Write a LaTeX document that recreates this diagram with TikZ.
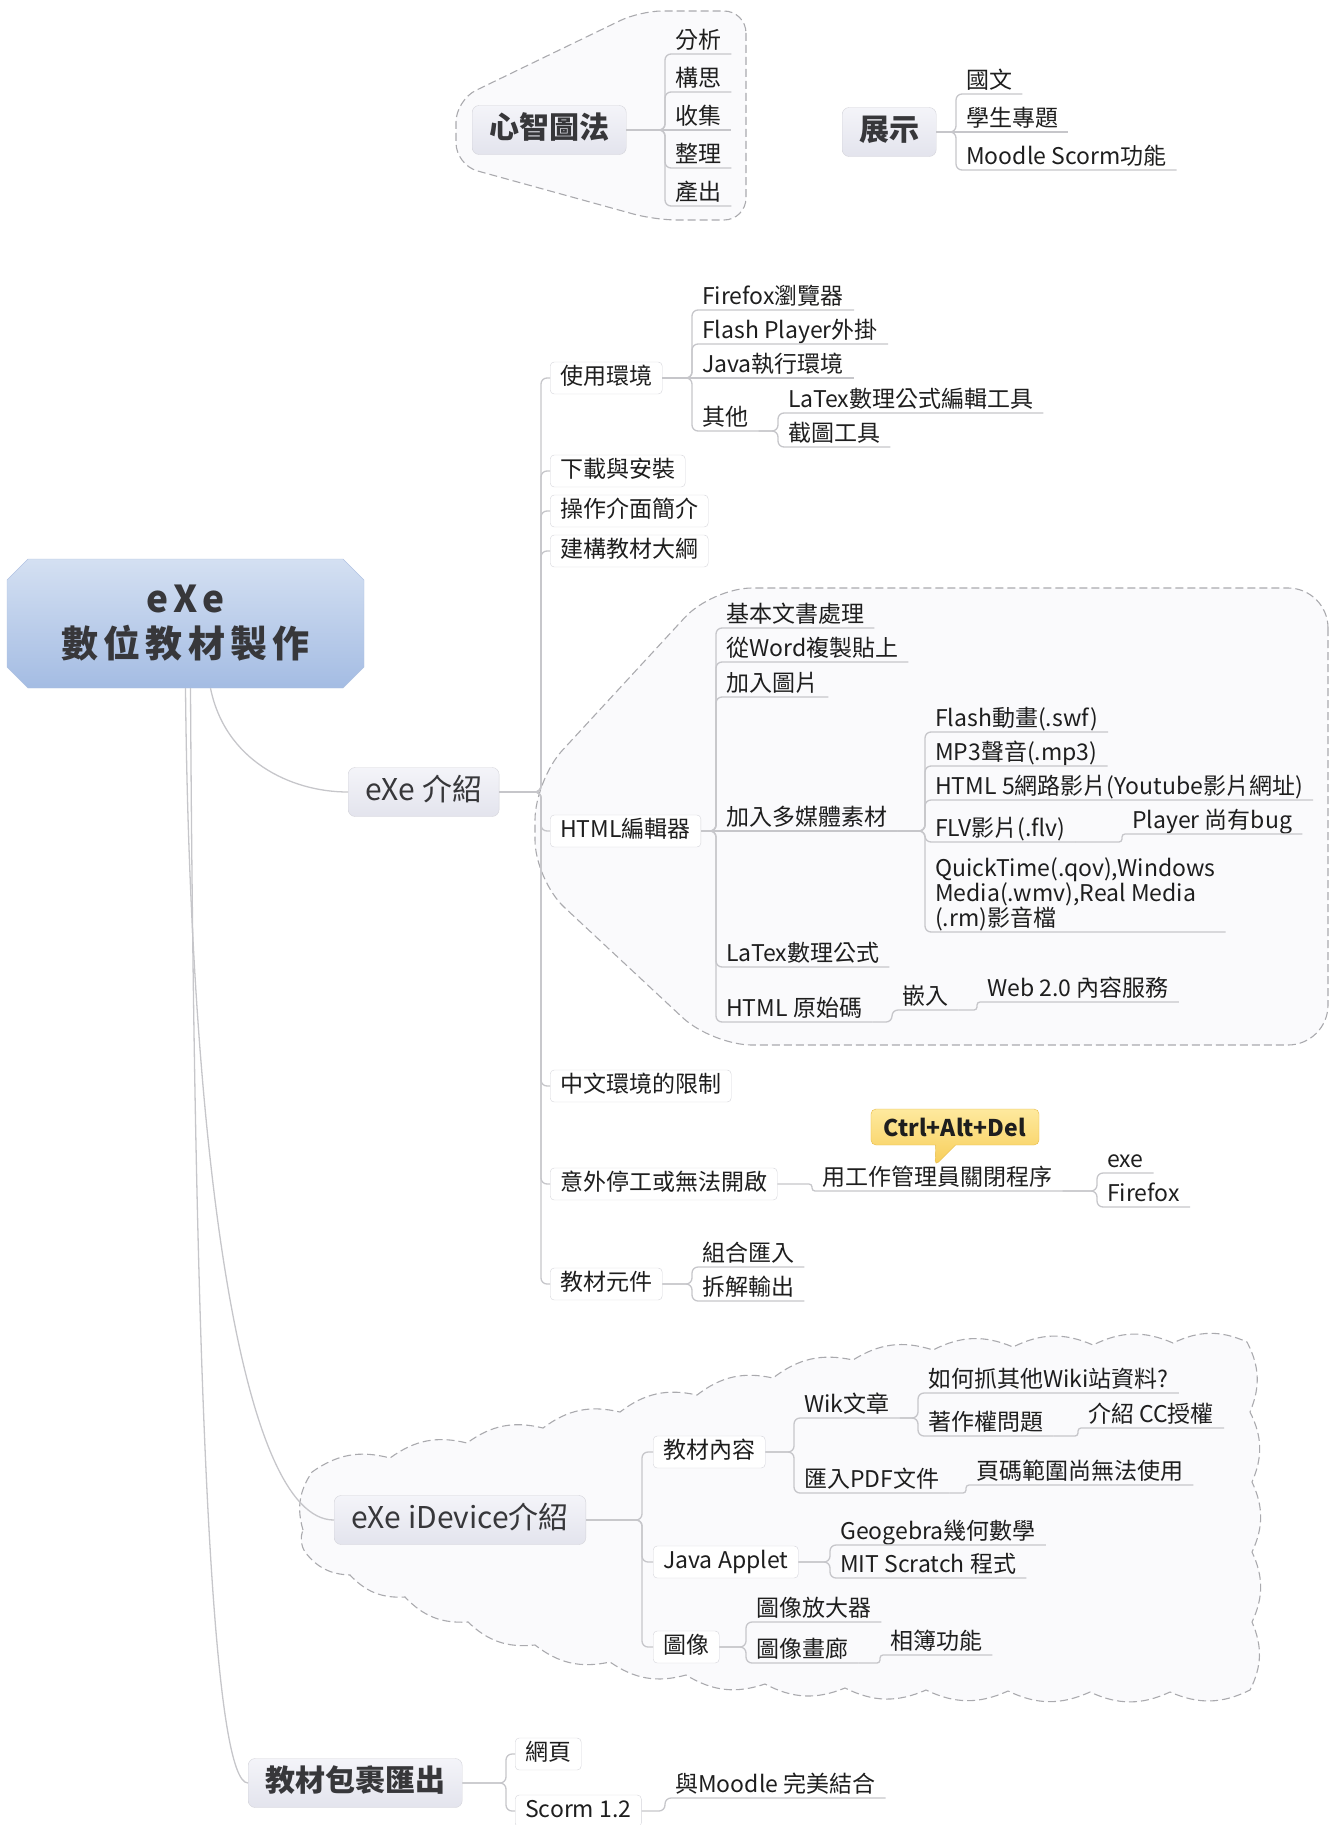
\documentclass[tikz,border=0pt]{standalone}
\usepackage{fontspec}
\setmainfont{Noto Sans CJK TC}
\usetikzlibrary{shapes.callouts}
\definecolor{ink}{RGB}{30,30,30}
\definecolor{head}{RGB}{55,55,58}
\definecolor{wire}{RGB}{198,198,202}
\definecolor{rim}{RGB}{212,212,218}
\definecolor{hull}{RGB}{170,170,174}
\definecolor{haze}{RGB}{250,250,252}
\definecolor{topA}{RGB}{244,244,249}
\definecolor{topB}{RGB}{227,228,237}
\definecolor{rootA}{RGB}{212,224,242}
\definecolor{rootB}{RGB}{164,188,227}
\definecolor{rootE}{RGB}{176,194,226}
\definecolor{tipA}{RGB}{254,233,158}
\definecolor{tipB}{RGB}{247,205,88}
\definecolor{tipE}{RGB}{230,186,72}
\newcommand{\fsz}[1]{\fontsize{#1}{#1}\selectfont}
\tikzset{
  x=1pt,y=-1pt,
  rootlbl/.style={minimum width=357pt,minimum height=129pt,align=center,
    text=head,font=\fontsize{37}{45}\selectfont\bfseries\addfontfeature{LetterSpace=14}},
  topic/.style={draw=rim,rounded corners=7pt,top color=topA,bottom color=topB,
    anchor=west,inner xsep=17pt,inner ysep=9pt,text height=24pt,text depth=7pt,
    minimum height=49pt,font=\fsz{30},text=head},
  heavy/.style={font=\fsz{30}\bfseries},
  sub/.style={draw=rim,rounded corners=4pt,fill=white,anchor=west,
    inner xsep=10pt,inner ysep=4pt,text height=17pt,text depth=5pt,
    minimum height=32pt,font=\fsz{23},text=ink},
  leaf/.style={anchor=south west,inner xsep=10pt,inner ysep=0pt,
    text height=17pt,text depth=5pt,font=\fsz{23},text=ink},
  qleaf/.style={anchor=south west,inner xsep=10pt,inner ysep=1pt,align=left,
    font=\fontsize{23}{23.5}\selectfont,text=ink},
  tip/.style={rectangle callout,rounded corners=5pt,draw=tipE,
    top color=tipA,bottom color=tipB,inner xsep=13pt,minimum height=36pt,
    callout pointer width=20pt,font=\fsz{23}\bfseries,text=ink},
  conn/.style={draw=wire,line width=1.3pt,rounded corners=6pt},
  jog/.style={rounded corners=3pt},
  hullline/.style={draw=hull,dash pattern=on 8pt off 4pt,line width=1.1pt,fill=haze},
  puff/.style={bend left=25},
}
\begin{document}
\begin{tikzpicture}
  \path[use as bounding box] (0,0) rectangle (1330,1825);
  \clip (0,0) rectangle (1330,1825);

  % dashed boundaries
  \draw[hullline,rounded corners=22pt] (746,11) -- (746,220) -- (655,220)
    -- (456,165) -- (456,100) -- (640,11) -- cycle;
  \draw[hullline,rounded corners=40pt] (1328,588) -- (1328,1045) -- (712,1045)
    -- (535,880) -- (535,780) -- (712,588) -- cycle;
  % cloud round the iDevice branch
  \draw[hullline] (303,1530) to[puff] (312,1472) to[puff] (390,1458)
    to[puff] (467,1443) to[puff] (543,1428) to[puff] (620,1412)
    to[puff] (697,1395) to[puff] (773,1378) to[puff] (853,1360)
    to[puff] (933,1350) to[puff] (1013,1347) to[puff] (1093,1345)
    to[puff] (1173,1343) to[puff] (1247,1342) to[puff] (1250,1412)
    to[puff] (1252,1482) to[puff] (1252,1552) to[puff] (1252,1622)
    to[puff] (1250,1690) to[puff] (1170,1692) to[puff] (1090,1692)
    to[puff] (1008,1691) to[puff] (926,1690) to[puff] (845,1688)
    to[puff] (765,1684) to[puff] (686,1675) to[puff] (610,1662)
    to[puff] (535,1645) to[puff] (468,1622) to[puff] (405,1597)
    to[puff] (350,1575) to[puff] (305,1552) to[puff] (303,1530) -- cycle;

  % central topic
  \shade[top color=rootA,bottom color=rootB,draw=rootE]
    (28,559) -- (343,559) -- (364,580) -- (364,667) -- (343,688)
    -- (28,688) -- (7,667) -- (7,580) -- cycle;
  \node[rootlbl] (root) at (185.5,623.5) {eXe\\數位教材製作};

  % floating topics
  \node[topic,heavy] (mind) at (472,130) {心智圖法};
  \node[leaf] (m1) at (665,54) {分析};
  \node[leaf] (m2) at (665,92) {構思};
  \node[leaf] (m3) at (665,130) {收集};
  \node[leaf] (m4) at (665,168) {整理};
  \node[leaf] (m5) at (665,206) {產出};
  \draw[conn] (mind.east) -| (m1.south west) -- (m1.south east);
  \draw[conn] (mind.east) -| (m2.south west) -- (m2.south east);
  \draw[conn] (mind.east) -- (m3.south east);
  \draw[conn] (mind.east) -| (m4.south west) -- (m4.south east);
  \draw[conn] (mind.east) -| (m5.south west) -- (m5.south east);

  \node[topic,heavy] (show) at (842,132) {展示};
  \node[leaf] (s1) at (956,94) {國文};
  \node[leaf] (s2) at (956,132) {學生專題};
  \node[leaf] (s3) at (956,170) {Moodle Scorm功能};
  \draw[conn] (show.east) -| (s1.south west) -- (s1.south east);
  \draw[conn] (show.east) -- (s2.south east);
  \draw[conn] (show.east) -| (s3.south west) -- (s3.south east);

  % eXe intro branch
  \node[topic] (exe) at (348,792) {eXe 介紹};
  \draw[conn] ([xshift=25pt]root.south) .. controls (225,760) and (290,792) .. (exe.west);
  \node[sub] (env) at (550,378) {使用環境};
  \node[sub] (dl) at (550,471) {下載與安裝};
  \node[sub] (ui) at (550,511) {操作介面簡介};
  \node[sub] (ol) at (550,551) {建構教材大綱};
  \node[sub] (html) at (550,831) {HTML編輯器};
  \node[sub] (zh) at (550,1086) {中文環境的限制};
  \node[sub] (crash) at (550,1184) {意外停工或無法開啟};
  \node[sub] (comp) at (550,1284) {教材元件};
  \draw[conn] (exe.east) -| ([xshift=-9pt]env.west) -- (env.west);
  \draw[conn] (exe.east) -| ([xshift=-9pt]dl.west) -- (dl.west);
  \draw[conn] (exe.east) -| ([xshift=-9pt]ui.west) -- (ui.west);
  \draw[conn] (exe.east) -| ([xshift=-9pt]ol.west) -- (ol.west);
  \draw[conn] (exe.east) -| ([xshift=-9pt]html.west) -- (html.west);
  \draw[conn] (exe.east) -| ([xshift=-9pt]zh.west) -- (zh.west);
  \draw[conn] (exe.east) -| ([xshift=-9pt]crash.west) -- (crash.west);
  \draw[conn] (exe.east) -| ([xshift=-9pt]comp.west) -- (comp.west);

  \node[leaf] (ff) at (692,310) {Firefox瀏覽器};
  \node[leaf] (fp) at (692,344) {Flash Player外掛};
  \node[leaf] (jv) at (692,378) {Java執行環境};
  \node[leaf] (ot) at (692,431) {其他};
  \node[leaf] (lt) at (778,413) {LaTex數理公式編輯工具};
  \node[leaf] (sn) at (778,447) {截圖工具};
  \draw[conn] (env.east) -| (ff.south west) -- (ff.south east);
  \draw[conn] (env.east) -| (fp.south west) -- (fp.south east);
  \draw[conn] (env.east) -- (jv.south east);
  \draw[conn] (env.east) -| (ot.south west) -- (ot.south east);
  \draw[conn] (ot.south east) -| (lt.south west) -- (lt.south east);
  \draw[conn] (ot.south east) -| (sn.south west) -- (sn.south east);

  \node[leaf] (b1) at (716,628) {基本文書處理};
  \node[leaf] (b2) at (716,662) {從Word複製貼上};
  \node[leaf] (b3) at (716,697) {加入圖片};
  \node[leaf] (mm) at (716,831) {加入多媒體素材};
  \node[leaf] (lx) at (716,967) {LaTex數理公式};
  \node[leaf] (src) at (716,1022) {HTML 原始碼};
  \draw[conn] (html.east) -| (b1.south west) -- (b1.south east);
  \draw[conn] (html.east) -| (b2.south west) -- (b2.south east);
  \draw[conn] (html.east) -| (b3.south west) -- (b3.south east);
  \draw[conn] (html.east) -- (mm.south east);
  \draw[conn] (html.east) -| (lx.south west) -- (lx.south east);
  \draw[conn] (html.east) -| (src.south west) -- (src.south east);

  \node[leaf] (f1) at (925,732) {Flash動畫(.swf)};
  \node[leaf] (f2) at (925,766) {MP3聲音(.mp3)};
  \node[leaf] (f3) at (925,800) {HTML 5網路影片(Youtube影片網址)};
  \node[leaf] (f4) at (925,842) {FLV影片(.flv)};
  \node[qleaf] (f5) at (925,932) {QuickTime(.qov),Windows\\Media(.wmv),Real Media\\(.rm)影音檔};
  \node[leaf] (bug) at (1122,834) {Player 尚有bug};
  \draw[conn] (mm.south east) -| (f1.south west) -- (f1.south east);
  \draw[conn] (mm.south east) -| (f2.south west) -- (f2.south east);
  \draw[conn] (mm.south east) -| (f3.south west) -- (f3.south east);
  \draw[conn] (mm.south east) -| (f4.south west) -- (f4.south east);
  \draw[conn] (mm.south east) -| (f5.south west) -- (f5.south east);
  \draw[conn,jog] (f4.south east) -| (bug.south west) -- (bug.south east);

  \node[leaf] (em) at (892,1010) {嵌入};
  \node[leaf] (web) at (977,1002) {Web 2.0 內容服務};
  \draw[conn] (src.south east) -| (em.south west) -- (em.south east);
  \draw[conn,jog] (em.south east) -| (web.south west) -- (web.south east);

  \node[leaf] (tm) at (812,1191) {用工作管理員關閉程序};
  \node[leaf] (ex) at (1097,1173) {exe};
  \node[leaf] (fx) at (1097,1207) {Firefox};
  \node[tip,callout absolute pointer={([xshift=123pt,yshift=3pt]tm.north west)}]
    (key) at (955,1127) {Ctrl+Alt+Del};
  \draw[conn,jog] (crash.east) -| (tm.south west) -- (tm.south east);
  \draw[conn] (tm.south east) -| (ex.south west) -- (ex.south east);
  \draw[conn] (tm.south east) -| (fx.south west) -- (fx.south east);

  \node[leaf] (c1) at (692,1267) {組合匯入};
  \node[leaf] (c2) at (692,1301) {拆解輸出};
  \draw[conn] (comp.east) -| (c1.south west) -- (c1.south east);
  \draw[conn] (comp.east) -| (c2.south west) -- (c2.south east);

  % iDevice branch
  \node[topic] (idev) at (334,1520) {eXe iDevice介紹};
  \draw[conn] (root.south) .. controls (190,1150) and (240,1520) .. (idev.west);
  \node[sub] (cont) at (653,1452) {教材內容};
  \node[sub] (java) at (653,1562) {Java Applet};
  \node[sub] (img) at (653,1647) {圖像};
  \draw[conn] (idev.east) -| ([xshift=-11pt]cont.west) -- (cont.west);
  \draw[conn] (idev.east) -| ([xshift=-11pt]java.west) -- (java.west);
  \draw[conn] (idev.east) -| ([xshift=-11pt]img.west) -- (img.west);

  \node[leaf] (wik) at (794,1418) {Wik文章};
  \node[leaf] (pdf) at (794,1493) {匯入PDF文件};
  \node[leaf] (how) at (918,1393) {如何抓其他Wiki站資料?};
  \node[leaf] (cr) at (918,1436) {著作權問題};
  \node[leaf] (cc) at (1078,1428) {介紹 CC授權};
  \node[leaf] (pg) at (966,1485) {頁碼範圍尚無法使用};
  \draw[conn] (cont.east) -| (wik.south west) -- (wik.south east);
  \draw[conn] (cont.east) -| (pdf.south west) -- (pdf.south east);
  \draw[conn] (wik.south east) -| (how.south west) -- (how.south east);
  \draw[conn] (wik.south east) -| (cr.south west) -- (cr.south east);
  \draw[conn,jog] (cr.south east) -| (cc.south west) -- (cc.south east);
  \draw[conn,jog] (pdf.south east) -| (pg.south west) -- (pg.south east);

  \node[leaf] (geo) at (830,1545) {Geogebra幾何數學};
  \node[leaf] (mit) at (830,1578) {MIT Scratch 程式};
  \draw[conn] (java.east) -| (geo.south west) -- (geo.south east);
  \draw[conn] (java.east) -| (mit.south west) -- (mit.south east);

  \node[leaf] (zr) at (746,1622) {圖像放大器};
  \node[leaf] (gal) at (746,1663) {圖像畫廊};
  \node[leaf] (alb) at (880,1655) {相簿功能};
  \draw[conn] (img.east) -| (zr.south west) -- (zr.south east);
  \draw[conn] (img.east) -| (gal.south west) -- (gal.south east);
  \draw[conn,jog] (gal.south east) -| (alb.south west) -- (alb.south east);

  % export branch
  \node[topic,heavy] (pack) at (248,1783) {教材包裹匯出};
  \draw[conn] ([xshift=5pt]root.south) .. controls (195,1450) and (215,1783) .. (pack.west);
  \node[sub] (web1) at (515,1754) {網頁};
  \node[sub] (scorm) at (515,1811) {Scorm 1.2};
  \node[leaf] (moo) at (665,1798) {與Moodle 完美結合};
  \draw[conn] (pack.east) -| ([xshift=-9pt]web1.west) -- (web1.west);
  \draw[conn] (pack.east) -| ([xshift=-9pt]scorm.west) -- (scorm.west);
  \draw[conn] (scorm.east) -| (moo.south west) -- (moo.south east);
\end{tikzpicture}
\end{document}
